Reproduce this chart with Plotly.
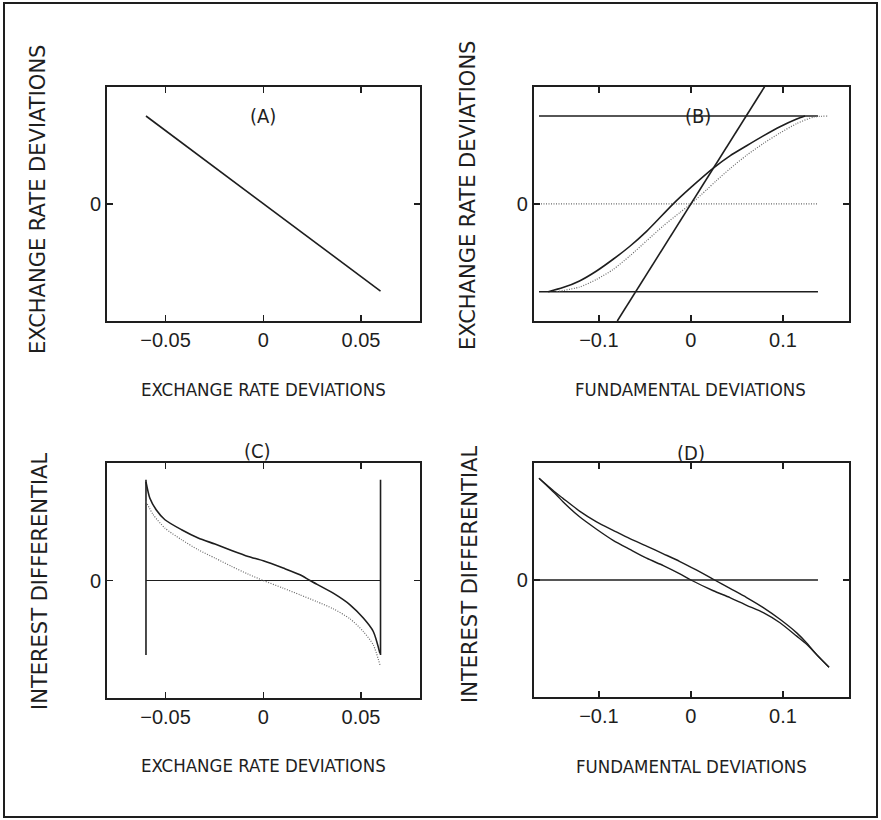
import plotly.graph_objects as go

# ---------------- data ----------------
# Panel A
a_x = [-0.06, 0.06]
a_y = [0.75, -0.745]

# Panel B
b_steep_x = [-0.08, 0.08]
b_steep_y = [-1.0, 1.0]
b_band_x = [-0.165, 0.138]
b_band_hi = [0.75, 0.75]
b_band_lo = [-0.75, -0.75]
b_zero_x = [-0.171, 0.138]
b_zero_y = [0.0, 0.0]
b_solid_x = [-0.155, -0.139, -0.121, -0.1025, -0.0845, -0.0663, -0.0482, -0.0192, 0.0,
             0.0243, 0.0424, 0.0605, 0.0786, 0.0967, 0.1149, 0.124]
b_solid_y = [-0.75, -0.715, -0.658, -0.573, -0.473, -0.362, -0.235, 0.0, 0.14,
             0.305, 0.41, 0.496, 0.58, 0.658, 0.724, 0.75]
b_dot_x = [-0.146, -0.121, -0.1025, -0.0845, -0.0663, -0.0482, -0.030, -0.012, 0.0,
           0.017, 0.0279, 0.0424, 0.0605, 0.0786, 0.0967, 0.1149, 0.133, 0.149]
b_dot_y = [-0.75, -0.71, -0.645, -0.56, -0.444, -0.316, -0.188, -0.074, 0.0,
           0.12, 0.2, 0.3, 0.415, 0.515, 0.605, 0.685, 0.74, 0.75]

# Panel C
c_wall_y = [0.858, -0.633]
c_wall_left = [-0.06, -0.06]
c_wall_right = [0.06, 0.06]
c_zero_x = [-0.06, 0.06]
c_zero_y = [0.0, 0.0]
c_solid_x = [-0.06, -0.058, -0.0547, -0.0503, -0.0418, -0.0333, -0.0247, -0.0162, -0.0077,
             0.0, 0.0102, 0.0188, 0.0239, 0.0358, 0.0444, 0.0512, 0.0563, 0.0597]
c_solid_y = [0.84, 0.70, 0.60, 0.517, 0.432, 0.362, 0.31, 0.256, 0.205,
             0.168, 0.106, 0.049, 0.0, -0.108, -0.207, -0.32, -0.434, -0.62]
c_dot_x = [-0.06, -0.0563, -0.0503, -0.0418, -0.0333, -0.0247, -0.0162, -0.0077, 0.0,
           0.0102, 0.0188, 0.0273, 0.0358, 0.0444, 0.0512, 0.0563, 0.0597]
c_dot_y = [0.673, 0.56, 0.446, 0.347, 0.262, 0.191, 0.12, 0.054, 0.0,
           -0.065, -0.122, -0.179, -0.241, -0.326, -0.434, -0.548, -0.718]

# Panel D
d_zero_x = [-0.171, 0.138]
d_zero_y = [0.0, 0.0]
d_up_x = [-0.165, -0.146, -0.139, -0.121, -0.1025, -0.0845, -0.0663, -0.0482, -0.030, -0.012,
          0.0058, 0.0257, 0.0424, 0.0605, 0.0786, 0.0967, 0.1149, 0.1257, 0.1366, 0.150]
d_up_y = [0.87, 0.741, 0.698, 0.589, 0.497, 0.425, 0.353, 0.29, 0.224, 0.158,
          0.086, 0.0, -0.072, -0.15, -0.236, -0.336, -0.452, -0.538, -0.638, -0.745]
d_lo_x = [-0.165, -0.146, -0.139, -0.121, -0.1025, -0.0845, -0.0663, -0.0482, -0.030, -0.012,
          0.0, 0.0243, 0.0424, 0.0605, 0.0786, 0.0967, 0.1149, 0.1257, 0.1366, 0.150]
d_lo_y = [0.87, 0.727, 0.669, 0.54, 0.434, 0.339, 0.261, 0.186, 0.123, 0.052,
          0.0, -0.092, -0.15, -0.216, -0.279, -0.365, -0.48, -0.55, -0.638, -0.745]

# ticks / labels
x_ticks_er = [-0.05, 0, 0.05]
x_text_er = ["\u22120.05", "0", "0.05"]
x_ticks_f = [-0.1, 0, 0.1]
x_text_f = ["\u22120.1", "0", "0.1"]
y_ticks = [0]
y_text = ["0"]
panel_labels = ["(A)", "(B)", "(C)", "(D)"]
x_titles = ["EXCHANGE RATE DEVIATIONS", "FUNDAMENTAL DEVIATIONS",
            "EXCHANGE RATE DEVIATIONS", "FUNDAMENTAL DEVIATIONS"]
y_titles = ["EXCHANGE RATE DEVIATIONS", "EXCHANGE RATE DEVIATIONS",
            "INTEREST DIFFERENTIAL", "INTEREST DIFFERENTIAL"]

# ---------------- figure ----------------
W, H = 881, 820
INK = "#1e1e1e"
DOT = "#6a6a6a"

def px_x(p):
    return p / W

def px_y(p):
    return 1 - p / H

fig = go.Figure()

def solid(x, y, ax, w=1.6, shape="linear"):
    fig.add_trace(go.Scatter(x=x, y=y, xaxis=ax[0], yaxis=ax[1], mode="lines",
                             line=dict(color=INK, width=w, shape=shape, smoothing=0.7),
                             showlegend=False, hoverinfo="skip"))

def dotted(x, y, ax, shape="linear"):
    fig.add_trace(go.Scatter(x=x, y=y, xaxis=ax[0], yaxis=ax[1], mode="lines",
                             line=dict(color=DOT, width=1.2, dash="1px,1.5px", shape=shape,
                                       smoothing=0.7),
                             showlegend=False, hoverinfo="skip"))

A = ("x", "y"); B = ("x2", "y2"); C = ("x3", "y3"); D = ("x4", "y4")

solid(a_x, a_y, A)

solid(b_band_x, b_band_hi, B)
solid(b_band_x, b_band_lo, B)
dotted(b_zero_x, b_zero_y, B)
dotted(b_dot_x, b_dot_y, B, shape="spline")
solid(b_solid_x, b_solid_y, B, shape="spline")
solid(b_steep_x, b_steep_y, B)

solid(c_wall_left, c_wall_y, C)
solid(c_wall_right, c_wall_y, C)
solid(c_zero_x, c_zero_y, C, w=1.2)
dotted(c_dot_x, c_dot_y, C, shape="spline")
solid(c_solid_x, c_solid_y, C, shape="spline")

solid(d_zero_x, d_zero_y, D, w=1.4)
solid(d_up_x, d_up_y, D, w=1.4, shape="spline")
solid(d_lo_x, d_lo_y, D, w=1.4, shape="spline")

# plot boxes (pixels)
boxes = {
    "A": (106.7, 420.0, 86.7, 321.0),
    "B": (533.5, 849.0, 86.7, 321.0),
    "C": (106.7, 420.0, 463.0, 698.0),
    "D": (533.5, 849.0, 463.0, 697.0),
}

tick_font = dict(family="Liberation Sans, Arial, sans-serif", size=20, color=INK)

def xax(box, tv, tt, rng):
    l, r, t, b = box
    return dict(domain=[px_x(l), px_x(r)], range=rng, showgrid=False, zeroline=False,
                showline=True, mirror="ticks", linecolor=INK, linewidth=1.6,
                ticks="inside", ticklen=6, tickwidth=1.5, tickcolor=INK,
                tickvals=tv, ticktext=tt, tickfont=tick_font, fixedrange=True)

def yax(box, anchor):
    l, r, t, b = box
    return dict(domain=[px_y(b), px_y(t)], range=[-1, 1], showgrid=False, zeroline=False,
                showline=True, mirror="ticks", linecolor=INK, linewidth=1.6,
                ticks="inside", ticklen=6, tickwidth=1.5, tickcolor=INK,
                tickvals=y_ticks, ticktext=y_text, tickfont=tick_font, anchor=anchor,
                fixedrange=True)

r_er = [-0.0801, 0.0802]
r_f = [-0.171, 0.1717]

fig.update_layout(
    width=W, height=H, autosize=False,
    margin=dict(l=0, r=0, t=0, b=0),
    paper_bgcolor="white", plot_bgcolor="white",
    xaxis=dict(xax(boxes["A"], x_ticks_er, x_text_er, r_er), anchor="y"),
    yaxis=yax(boxes["A"], "x"),
    xaxis2=dict(xax(boxes["B"], x_ticks_f, x_text_f, r_f), anchor="y2"),
    yaxis2=yax(boxes["B"], "x2"),
    xaxis3=dict(xax(boxes["C"], x_ticks_er, x_text_er, r_er), anchor="y3"),
    yaxis3=yax(boxes["C"], "x3"),
    xaxis4=dict(xax(boxes["D"], x_ticks_f, x_text_f, r_f), anchor="y4"),
    yaxis4=yax(boxes["D"], "x4"),
)

narrow = dict(family="Liberation Sans Narrow, DejaVu Sans Condensed, Arial Narrow, sans-serif",
              size=18.5, color=INK)
label_font = dict(narrow, size=20)
wide = dict(family="DejaVu Sans, Verdana, sans-serif", size=21, color=INK)

# panel labels (pixel centres)
label_pos = [(263, 116), (698, 116), (257, 451), (691, 453)]
for txt, (cx, cy) in zip(panel_labels, label_pos):
    fig.add_annotation(text=txt, x=px_x(cx), y=px_y(cy), xref="paper", yref="paper",
                       showarrow=False, font=label_font, xanchor="center", yanchor="middle")

# x titles
xt_pos = [(263, 389), (690, 389), (263, 765), (691, 766)]
for txt, (cx, cy) in zip(x_titles, xt_pos):
    fig.add_annotation(text=txt, x=px_x(cx), y=px_y(cy), xref="paper", yref="paper",
                       showarrow=False, font=narrow, xanchor="center", yanchor="middle")

# y titles
yt_pos = [(38, 200), (468, 196), (40, 582), (470, 575)]
for txt, (cx, cy) in zip(y_titles, yt_pos):
    fig.add_annotation(text=txt, x=px_x(cx), y=px_y(cy), xref="paper", yref="paper",
                       showarrow=False, font=wide, textangle=-90,
                       xanchor="center", yanchor="middle")

# outer frame
fig.add_shape(type="rect", xref="paper", yref="paper",
              x0=px_x(4), x1=px_x(877), y0=px_y(817), y1=px_y(3),
              line=dict(color=INK, width=2))

fig.write_html(
    "out.html",
    config={"displayModeBar": False, "displaylogo": False, "staticPlot": True},
    post_script="document.documentElement.style.margin='0';document.body.style.margin='0';"
                "document.body.style.overflow='hidden';",
)
